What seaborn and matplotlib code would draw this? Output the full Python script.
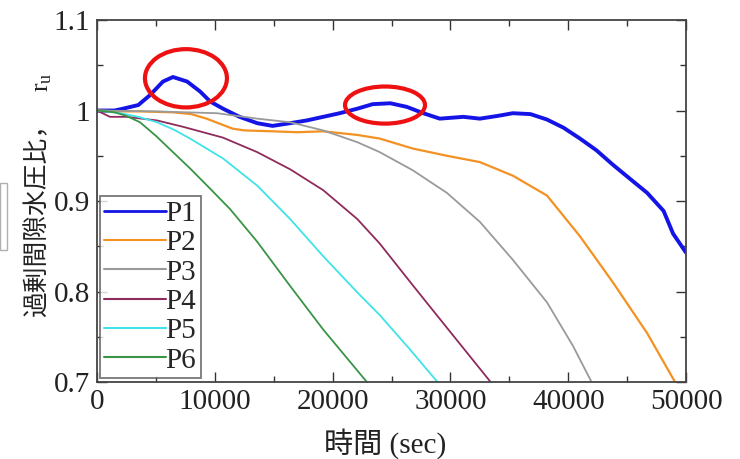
import numpy as np
import pandas as pd
import matplotlib
matplotlib.use("Agg")
import matplotlib.pyplot as plt
from matplotlib.patches import Ellipse, Rectangle
import seaborn as sns

# ---- data ----
series_names = ["P1", "P2", "P3", "P4", "P5", "P6"]

p1_t = [0, 1500, 2200, 3500, 4500, 5600, 6450, 7650, 8750, 9600, 10700, 12100, 13600, 14900,
        16400, 17800, 19200, 20600, 22100, 23400, 24900, 26300, 27700, 29100, 31100, 32500,
        34000, 35300, 36800, 38200, 39600, 41000, 42400, 43800, 45200, 46700, 48100, 48900, 50000]
p1_v = [1.000, 1.000, 1.002, 1.006, 1.017, 1.032, 1.037, 1.032, 1.021, 1.010, 1.002, 0.993, 0.986,
        0.983, 0.986, 0.989, 0.993, 0.997, 1.002, 1.007, 1.008, 1.004, 0.997, 0.991, 0.993, 0.991,
        0.994, 0.997, 0.996, 0.990, 0.981, 0.969, 0.956, 0.940, 0.925, 0.909, 0.889, 0.864, 0.843]

p2_t = [0, 2000, 3650, 6450, 8000, 9300, 10500, 11500, 12500, 14900, 17000, 19200, 22100, 24000,
        26800, 29700, 32500, 35300, 38200, 41000, 43800, 46700, 49200]
p2_v = [1.000, 0.999, 0.999, 0.998, 0.996, 0.991, 0.985, 0.980, 0.978, 0.977, 0.976, 0.977, 0.973,
        0.969, 0.958, 0.950, 0.943, 0.928, 0.906, 0.861, 0.810, 0.754, 0.697]

p3_t = [0, 5000, 10200, 13600, 16400, 19200, 22100, 24000, 26800, 29700, 32500, 35300, 38200, 40400, 42100]
p3_v = [1.000, 0.999, 0.997, 0.991, 0.987, 0.978, 0.965, 0.954, 0.934, 0.909, 0.877, 0.835, 0.788, 0.740, 0.697]

p4_t = [0, 1100, 2500, 5100, 7300, 10700, 13600, 16400, 19200, 22100, 24000, 26800, 29700, 33600]
p4_v = [1.000, 0.993, 0.993, 0.989, 0.982, 0.970, 0.954, 0.935, 0.912, 0.880, 0.853, 0.807, 0.760, 0.697]

p5_t = [0, 2000, 3500, 5100, 6500, 7900, 10700, 13600, 16400, 19200, 22100, 24000, 26500, 29100]
p5_v = [1.000, 0.997, 0.993, 0.987, 0.979, 0.969, 0.947, 0.917, 0.880, 0.839, 0.799, 0.774, 0.737, 0.697]

p6_t = [0, 1500, 2500, 3650, 5000, 6450, 7900, 9500, 11300, 13600, 16400, 19200, 23100]
p6_v = [1.000, 0.998, 0.994, 0.987, 0.972, 0.954, 0.936, 0.915, 0.891, 0.855, 0.806, 0.758, 0.697]

x_ticks = [0, 10000, 20000, 30000, 40000, 50000]
y_ticks = [0.7, 0.8, 0.9, 1.0, 1.1]
y_tick_labels = ["0.7", "0.8", "0.9", "1", "1.1"]

# highlighted regions (ellipse centre t, centre v, width, height)
highlight_t = [7550, 24450]
highlight_v = [1.0356, 1.006]
highlight_w = [6960, 6790]
highlight_h = [0.0644, 0.041]

colors = {"P1": "#1414e6", "P2": "#f39223", "P3": "#9a9a9a",
          "P4": "#8e2b5c", "P5": "#3fe3e8", "P6": "#3a9445"}

all_t = [p1_t, p2_t, p3_t, p4_t, p5_t, p6_t]
all_v = [p1_v, p2_v, p3_v, p4_v, p5_v, p6_v]
frames = []
for name, t, v in zip(series_names, all_t, all_v):
    frames.append(pd.DataFrame({"t": t, "v": v, "series": name}))
df = pd.concat(frames, ignore_index=True)

# ---- style ----
sns.set_theme(style="ticks")
plt.rcParams["font.family"] = ["Liberation Serif", "Noto Sans CJK JP"]
plt.rcParams["mathtext.fontset"] = "custom"
plt.rcParams["mathtext.rm"] = "Liberation Serif"
plt.rcParams["mathtext.it"] = "Liberation Serif:italic"

fig = plt.figure(figsize=(7.4, 4.59), dpi=100)
ax = fig.add_axes([97 / 740, 77 / 459, 589 / 740, 362 / 459])

sns.lineplot(data=df, x="t", y="v", hue="series", hue_order=series_names,
             palette=colors, sort=False, estimator=None, legend=False, ax=ax)

for line, name in zip(ax.lines, series_names):
    line.set_linewidth(2.8 if name == "P1" else (1.6 if name == "P2" else 1.3))
    line.set_solid_joinstyle("round")

for ct, cv, w, h in zip(highlight_t, highlight_v, highlight_w, highlight_h):
    ax.add_patch(Ellipse((ct, cv), w, h, fill=False, edgecolor="#ee1111", linewidth=3.0, zorder=5))

ax.set_xlim(0, 50000)
ax.set_ylim(0.7, 1.1)
ax.set_xticks(x_ticks)
ax.set_xticklabels([str(x) for x in x_ticks])
ax.set_yticks(y_ticks)
ax.set_yticklabels(y_tick_labels)
ax.set_xticks(np.arange(5000, 50000, 10000), minor=True)
ax.set_yticks(np.arange(0.75, 1.1, 0.1), minor=True)

ax.tick_params(which="both", direction="in", top=True, right=True, colors="#333333",
               labelcolor="#222222", width=1.0)
ax.tick_params(which="major", length=7, labelsize=21, pad=5)
ax.tick_params(which="minor", length=4)
for sp in ax.spines.values():
    sp.set_color("#444444")
    sp.set_linewidth(1.3)

ax.set_xlabel("時間 (sec)", fontsize=21, color="#222222", va="top")
ax.xaxis.set_label_coords(0.49, -0.128)
ax.set_ylabel("過剰間隙水圧比，", fontsize=18.5, color="#222222")
ax.yaxis.set_label_coords(-0.0815, 0.464)
ax.text(-0.083, 0.801, "$\\mathregular{r_u}$", transform=ax.transAxes, rotation=90,
        rotation_mode="anchor", ha="left", va="baseline", fontsize=18.5, color="#222222")

leg = ax.legend(ax.lines, series_names, loc="lower left", bbox_to_anchor=(0.005, 0.011),
                borderaxespad=0, frameon=True, fancybox=False, fontsize=21,
                handlelength=2.1, handletextpad=0.0, labelspacing=0.1, borderpad=0.15)
leg.get_frame().set_edgecolor("#555555")
leg.get_frame().set_linewidth(1.3)
for lh, name in zip(leg.get_lines(), series_names):
    lh.set_linewidth(2.0 if name == "P1" else 1.5)

# small leftover box at the left edge of the original slide
fig.patches.append(Rectangle((0, 1 - 250 / 459), 7 / 740, 67 / 459, transform=fig.transFigure,
                             fill=False, edgecolor="#b0b0b0", linewidth=1.0))

fig.savefig("out.png", dpi=100, facecolor="white")
